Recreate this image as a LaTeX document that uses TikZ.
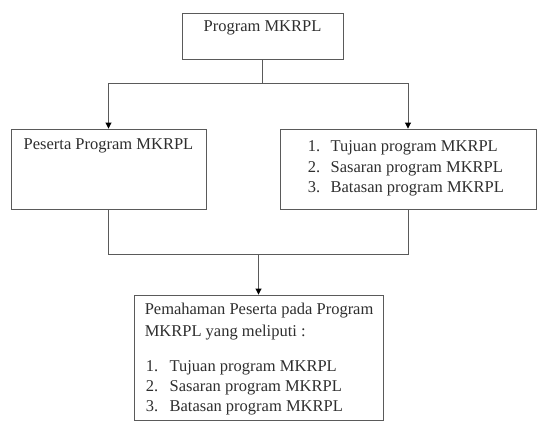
\documentclass[tikz,border=0pt]{standalone}
\usepackage{fontspec}
\setmainfont{Liberation Serif}
\usepackage{xcolor}
\usetikzlibrary{arrows.meta, positioning, calc}
\definecolor{garisabu}{HTML}{5A5A5A}
\definecolor{teksgelap}{HTML}{2E2E2E}

\begin{document}
\begin{tikzpicture}[
    x=1pt, y=-1pt,
    kotak/.style={draw=garisabu, line width=0.9pt, inner sep=0pt},
    teks/.style={inner sep=0pt, text=teksgelap, font=\fontsize{16.5}{20.5}\selectfont},
    garis/.style={draw=garisabu, line width=0.9pt},
    panah/.style={garis, -{Triangle[length=6pt, width=6pt, black]}}
]
    \useasboundingbox (0,0) rectangle (538,421);

    \node[kotak, minimum width=161pt, minimum height=46pt] (program) at (262.5,36) {};
    \node[kotak, minimum width=195pt, minimum height=80pt] (peserta) at (108.5,169) {};
    \node[kotak, minimum width=256pt, minimum height=80pt] (tujuan) at (408,169) {};
    \node[kotak, minimum width=249pt, minimum height=125pt] (pemahaman) at (258.5,357.5) {};

    \node[teks, anchor=base] (tprogram) at ($(program.north)+(0,19)$) {Program MKRPL};
    \node[teks, anchor=base] (tpeserta) at ($(peserta.north)+(0,21)$) {Peserta Program MKRPL};
    \node[teks, anchor=base west] (ttujuan) at ($(tujuan.north west)+(28,23)$)
        {\begin{tabular}[t]{@{}l@{\hspace{10.5pt}}l@{}}
            1. & Tujuan program MKRPL\\
            2. & Sasaran program MKRPL\\
            3. & Batasan program MKRPL
        \end{tabular}};
    \node[teks, anchor=base west] (tpemahaman) at ($(pemahaman.north west)+(11,20)$)
        {\begin{tabular}[t]{@{}l@{}}
            Pemahaman Peserta pada Program\\[1.5pt]
            MKRPL yang meliputi :
        \end{tabular}};
    \node[teks, anchor=base west] (tcakupan) at ($(pemahaman.north west)+(12,77)$)
        {\begin{tabular}[t]{@{}l@{\hspace{11.5pt}}l@{}}
            1. & Tujuan program MKRPL\\[-0.5pt]
            2. & Sasaran program MKRPL\\[-0.5pt]
            3. & Batasan program MKRPL
        \end{tabular}};

    % cabang atas
    \coordinate (cabang) at ($(program.south)+(0,24)$);
    \draw[garis] (program.south) -- (cabang);
    \draw[panah] (cabang) -| (peserta.north);
    \draw[panah] (cabang) -| (tujuan.north);

    % gabung bawah
    \coordinate (gabung) at ($(pemahaman.north)+(0,-40)$);
    \draw[garis] (peserta.south) |- (gabung) -| (tujuan.south);
    \draw[panah] (gabung) -- (pemahaman.north);
\end{tikzpicture}
\end{document}
